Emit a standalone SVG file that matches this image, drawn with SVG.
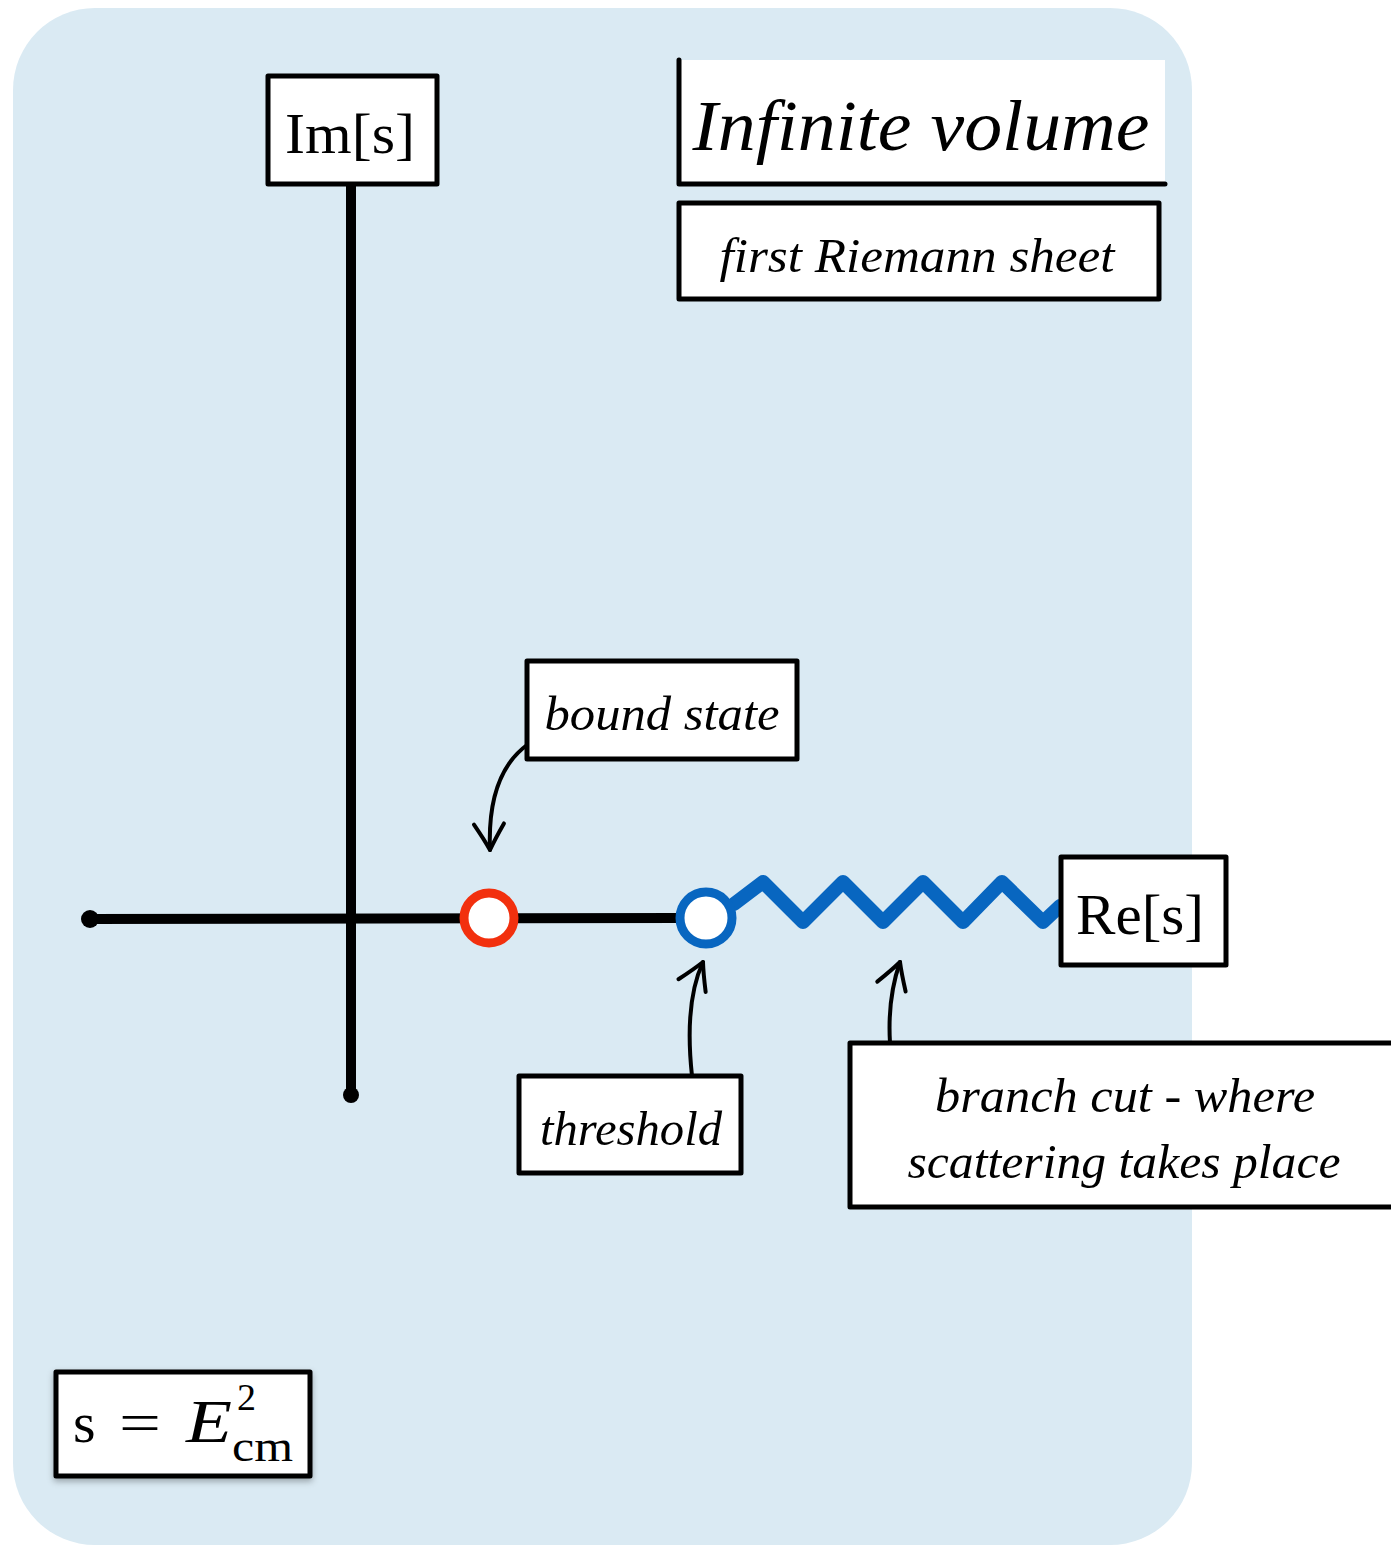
<svg xmlns="http://www.w3.org/2000/svg" width="1391" height="1545" viewBox="0 0 1391 1545">
<style>
.box{fill:#fff;stroke:#000;stroke-width:5;stroke-linejoin:round;stroke-linecap:round}
.lbl{font-family:"Liberation Serif","DejaVu Serif",serif;font-style:italic;fill:#000;text-anchor:middle}
.up{font-family:"Liberation Serif","DejaVu Serif",serif;fill:#000;text-anchor:middle}
.math{font-family:"Liberation Serif","DejaVu Serif",serif;fill:#000}
.axis{fill:none;stroke:#000;stroke-width:10;stroke-linecap:round}
.conn{fill:none;stroke:#000;stroke-width:4;stroke-linecap:round}
</style>
<defs>
<marker id="arr" markerUnits="userSpaceOnUse" markerWidth="60" markerHeight="60" viewBox="-30 -30 60 60" refX="0" refY="0" orient="auto">
<path d="M-26,-15 Q-10,-5 0,0 Q-10,5 -26,15" fill="none" stroke="#000" stroke-width="4" stroke-linecap="round" stroke-linejoin="round"/>
</marker>
<filter id="sh" x="-10%" y="-10%" width="120%" height="130%"><feDropShadow dx="0" dy="3" stdDeviation="3" flood-color="#000" flood-opacity="0.3"/></filter>
</defs>
<rect x="13" y="8" width="1179" height="1537" rx="82" ry="82" fill="#daeaf3"/>

<g id="connectors">
<path class="axis" d="M88,919 L680,918"/>
<path class="axis" d="M351,184 L351,1095"/>
<circle cx="90" cy="919" r="9" fill="#000"/>
<circle cx="351" cy="1095" r="8" fill="#000"/>
<path d="M734,904 L763,882 L803,922 L843,882 L883,922 L923,882 L963,922 L1002,882 L1043,922 L1060,906" fill="none" stroke="#0866c0" stroke-width="14" stroke-linejoin="round" stroke-linecap="round"/>
<path class="conn" d="M527,745 C500,765 488,800 490,850" marker-end="url(#arr)"/>
<path class="conn" d="M692,1076 C687,1030 690,990 703,962" marker-end="url(#arr)"/>
<path class="conn" d="M890,1043 C888,1010 892,985 900,962" marker-end="url(#arr)"/>
</g>

<g id="bound-state-pole">
<circle cx="489" cy="918" r="25" fill="#fff" stroke="#f2300e" stroke-width="9"/>
</g>
<g id="threshold-point">
<circle cx="706" cy="918" r="26" fill="#fff" stroke="#0866c0" stroke-width="9"/>
</g>

<g id="im-label">
<rect class="box" x="268" y="76" width="169" height="108"/>
<text class="up" x="350" y="153" font-size="56" textLength="130" lengthAdjust="spacingAndGlyphs">Im[s]</text>
</g>

<g id="re-label">
<rect class="box" x="1061" y="857" width="165" height="108"/>
<text class="up" x="1140" y="934" font-size="56" textLength="128" lengthAdjust="spacingAndGlyphs">Re[s]</text>
</g>

<g id="title">
<rect x="677" y="60" width="488" height="125" fill="#fff"/>
<path d="M679,60 L679,184 L1165,184" fill="none" stroke="#000" stroke-width="5" stroke-linecap="round" stroke-linejoin="round"/>
<text class="lbl" x="921" y="150" font-size="72" textLength="457" lengthAdjust="spacingAndGlyphs">Infinite volume</text>
</g>

<g id="sheet-label">
<rect class="box" x="679" y="203" width="480" height="96"/>
<text class="lbl" x="917" y="272" font-size="48" textLength="395" lengthAdjust="spacingAndGlyphs">first Riemann sheet</text>
</g>

<g id="bound-state">
<rect class="box" x="527" y="661" width="270" height="98"/>
<text class="lbl" x="662" y="730" font-size="48" textLength="235" lengthAdjust="spacingAndGlyphs">bound state</text>
</g>

<g id="threshold">
<rect class="box" x="519" y="1076" width="222" height="97"/>
<text class="lbl" x="631" y="1145" font-size="48" textLength="182" lengthAdjust="spacingAndGlyphs">threshold</text>
</g>

<g id="branch-cut">
<rect class="box" x="850" y="1043" width="560" height="164"/>
<text class="lbl" x="1125" y="1112" font-size="48" textLength="380" lengthAdjust="spacingAndGlyphs">branch cut - where</text>
<text class="lbl" x="1124" y="1178" font-size="48" textLength="433" lengthAdjust="spacingAndGlyphs">scattering takes place</text>
</g>

<g id="formula">
<rect class="box" x="56" y="1372" width="254" height="104" filter="url(#sh)"/>
<text class="math" x="73" y="1442" font-size="58">s</text>
<text class="math" x="119" y="1442" font-size="58" textLength="42" lengthAdjust="spacingAndGlyphs">=</text>
<text class="math" x="186" y="1442" font-style="italic" font-size="62" textLength="46" lengthAdjust="spacingAndGlyphs">E</text>
<text class="math" x="237" y="1410" font-size="38">2</text>
<text class="math" x="232" y="1461" font-size="44" textLength="61" lengthAdjust="spacingAndGlyphs">cm</text>
</g>
</svg>
